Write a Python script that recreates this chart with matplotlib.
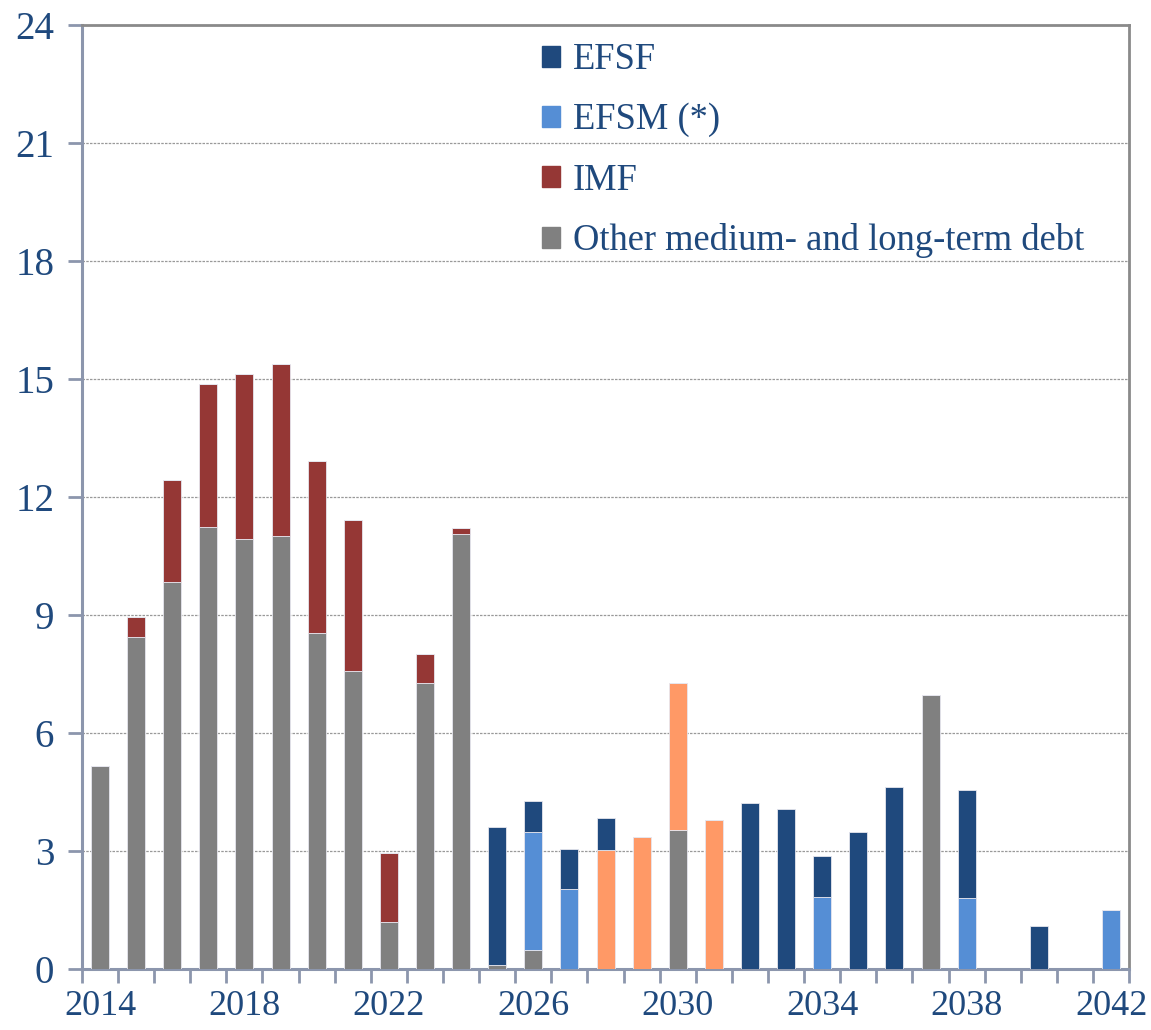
import numpy as np
import matplotlib
matplotlib.use("Agg")
import matplotlib.pyplot as plt
from matplotlib.patches import Patch

# repayment profile, EUR bn per year
years = list(range(2014, 2043))
other = [5.16, 8.44, 9.84, 11.24, 10.93, 11.0, 8.54, 7.58, 1.2, 7.27, 11.06,
         0.1, 0.48, 0, 0, 0, 3.53, 0, 0, 0, 0, 0, 0, 6.97, 0, 0, 0, 0, 0]
imf = [0, 0.51, 2.59, 3.63, 4.2, 4.38, 4.38, 3.84, 1.75, 0.73, 0.15,
       0, 0, 0, 0, 0, 0, 0, 0, 0, 0, 0, 0, 0, 0, 0, 0, 0, 0]
efsm = [0, 0, 0, 0, 0, 0, 0, 0, 0, 0, 0,
        0, 3.0, 2.03, 0, 0, 0, 0, 0, 0, 1.83, 0, 0, 0, 1.8, 0, 0, 0, 1.5]
bilateral = [0, 0, 0, 0, 0, 0, 0, 0, 0, 0, 0,
             0, 0, 0, 3.03, 3.36, 3.74, 3.79, 0, 0, 0, 0, 0, 0, 0, 0, 0, 0, 0]
efsf = [0, 0, 0, 0, 0, 0, 0, 0, 0, 0, 0,
        3.51, 0.79, 1.02, 0.81, 0, 0, 0, 4.22, 4.07, 1.04, 3.48, 4.63, 0, 2.75, 0, 1.09, 0, 0]

series = [
    ("Other medium- and long-term debt", other, "#808080"),
    ("IMF", imf, "#953735"),
    ("EFSM (*)", efsm, "#558ED5"),
    ("_bilateral", bilateral, "#FF9966"),
    ("EFSF", efsf, "#1F497D"),
]

txt = "#1F497D"
plt.rcParams['font.family'] = ['Liberation Serif', 'DejaVu Serif']

fig = plt.figure(figsize=(11.51, 10.30), dpi=100)
ax = fig.add_axes([0.0712, 0.0592, 0.9098, 0.9165])

x = np.arange(len(years))
bottom = np.zeros(len(years))
for name, vals, col in series:
    vals = np.array(vals)
    ax.bar(x, vals, width=0.5, bottom=bottom, color=col,
           edgecolor="#e6e6ee", linewidth=0.6, zorder=3)
    bottom += vals

ax.set_xlim(-0.5, len(years) - 0.5)
ax.set_ylim(0, 24)
ax.set_yticks(np.arange(0, 25, 3))
ax.yaxis.grid(True, linestyle=(0, (2, 1)), color="#999999", linewidth=0.9, zorder=0)

# year labels every fourth year, ticks at every category boundary
ax.set_xticks(x[::4])
ax.set_xticklabels([str(y) for y in years[::4]])
ax.set_xticks(np.arange(-0.5, len(years)), minor=True)
ax.tick_params(axis="x", which="major", length=0, pad=15)
ax.tick_params(axis="x", which="minor", length=10, width=2, color="#8C96AD")
ax.tick_params(axis="y", length=10, width=2, color="#8C96AD", pad=10)
ax.tick_params(axis="y", labelsize=28, labelcolor=txt)
ax.tick_params(axis="x", labelsize=26, labelcolor=txt)

for side in ["left", "bottom"]:
    ax.spines[side].set_color("#8C96AD")
    ax.spines[side].set_linewidth(2.2)
for side in ["top", "right"]:
    ax.spines[side].set_color("#8a8a8a")
    ax.spines[side].set_linewidth(2)

handles = [Patch(color=c) for _, _, c in [series[4], series[2], series[1], series[0]]]
labels = ["EFSF", "EFSM (*)", "IMF", "Other medium- and long-term debt"]
leg = ax.legend(handles, labels, loc="upper left", bbox_to_anchor=(0.408, 1.016),
                frameon=False, fontsize=26.3, handlelength=0.5, handleheight=0.5,
                handletextpad=0.35, labelspacing=0.7)
for t in leg.get_texts():
    t.set_color(txt)

fig.savefig("out.png", dpi=100)
